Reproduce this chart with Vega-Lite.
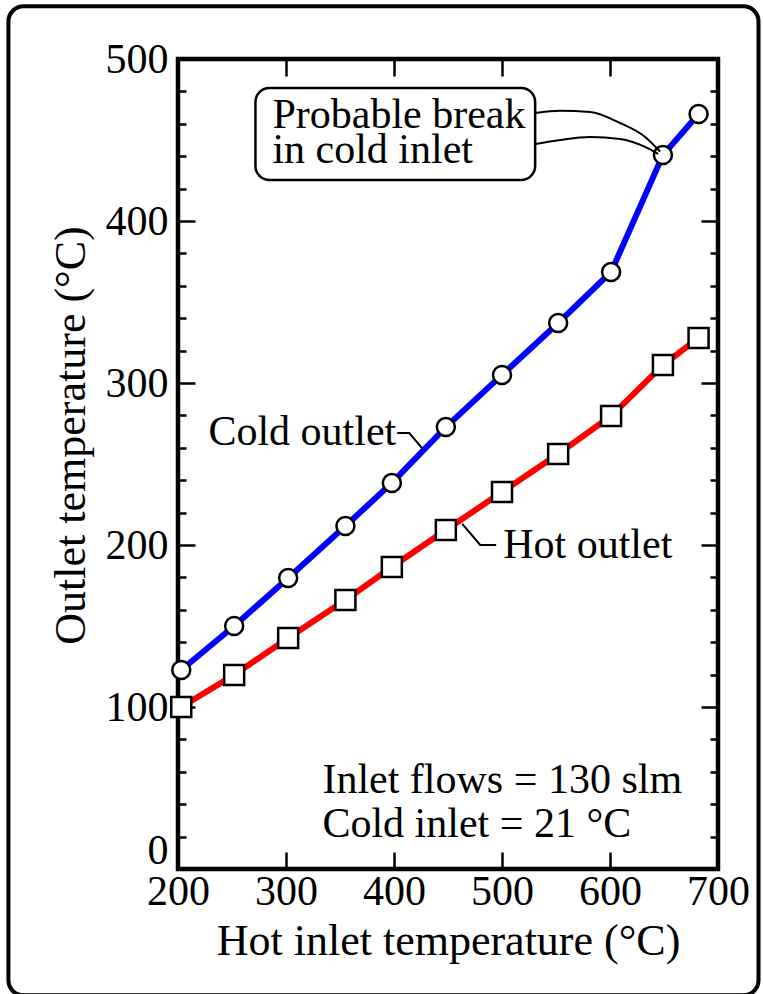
{
  "$schema": "https://vega.github.io/schema/vega-lite/v6.json",
  "width": 540,
  "height": 810,
  "autosize": "none",
  "padding": {"left": 178, "top": 59, "right": 45, "bottom": 125},
  "background": "white",
  "config": {
    "font": "Liberation Serif",
    "view": {"stroke": "black", "strokeWidth": 4.5},
    "axis": {
      "domain": false,
      "grid": false,
      "tickColor": "black",
      "tickWidth": 2.5,
      "labelColor": "black",
      "labelFontSize": 42,
      "titleColor": "black",
      "titleFontSize": 44,
      "titleFontWeight": "normal"
    }
  },
  "datasets": {
    "series": [
      {"series": "Cold outlet", "hot_inlet": 203, "outlet": 122.8},
      {"series": "Cold outlet", "hot_inlet": 252, "outlet": 150},
      {"series": "Cold outlet", "hot_inlet": 302, "outlet": 179.6},
      {"series": "Cold outlet", "hot_inlet": 355, "outlet": 211.7},
      {"series": "Cold outlet", "hot_inlet": 398, "outlet": 238.3},
      {"series": "Cold outlet", "hot_inlet": 448, "outlet": 272.8},
      {"series": "Cold outlet", "hot_inlet": 500, "outlet": 305},
      {"series": "Cold outlet", "hot_inlet": 552, "outlet": 337},
      {"series": "Cold outlet", "hot_inlet": 601, "outlet": 368.5},
      {"series": "Cold outlet", "hot_inlet": 649, "outlet": 440.7},
      {"series": "Cold outlet", "hot_inlet": 682, "outlet": 466},
      {"series": "Hot outlet", "hot_inlet": 203, "outlet": 100},
      {"series": "Hot outlet", "hot_inlet": 252, "outlet": 119.8},
      {"series": "Hot outlet", "hot_inlet": 302, "outlet": 142.6},
      {"series": "Hot outlet", "hot_inlet": 355, "outlet": 166},
      {"series": "Hot outlet", "hot_inlet": 398, "outlet": 186.4},
      {"series": "Hot outlet", "hot_inlet": 448, "outlet": 209.3},
      {"series": "Hot outlet", "hot_inlet": 500, "outlet": 232.7},
      {"series": "Hot outlet", "hot_inlet": 552, "outlet": 256.2},
      {"series": "Hot outlet", "hot_inlet": 601, "outlet": 279.6},
      {"series": "Hot outlet", "hot_inlet": 649, "outlet": 311.1},
      {"series": "Hot outlet", "hot_inlet": 682, "outlet": 327.8}
    ],
    "curves": [
      {"leader": "upper", "x": 530.7, "y": 466.7},
      {"leader": "upper", "x": 553.8, "y": 468},
      {"leader": "upper", "x": 581.5, "y": 467.3},
      {"leader": "upper", "x": 609.3, "y": 460.5},
      {"leader": "upper", "x": 632.5, "y": 451.9},
      {"leader": "upper", "x": 646.4, "y": 442.9},
      {"leader": "lower", "x": 530.7, "y": 447.5},
      {"leader": "lower", "x": 553.8, "y": 450},
      {"leader": "lower", "x": 581.5, "y": 451.9},
      {"leader": "lower", "x": 609.3, "y": 450.6},
      {"leader": "lower", "x": 632.5, "y": 445.7},
      {"leader": "lower", "x": 644.6, "y": 441.4}
    ],
    "leaders": [
      {"leader": "cold", "x": 403, "y": 269.1},
      {"leader": "cold", "x": 414.1, "y": 269.1},
      {"leader": "cold", "x": 427, "y": 259},
      {"leader": "hot", "x": 463.2, "y": 213},
      {"leader": "hot", "x": 479.8, "y": 200},
      {"leader": "hot", "x": 494.6, "y": 200}
    ],
    "labelsLeft": [
      {"label": "Probable break", "x": 287.4, "y": 457.2},
      {"label": "in cold inlet", "x": 287.4, "y": 435.6},
      {"label": "Hot outlet", "x": 501.1, "y": 192},
      {"label": "Inlet flows = 130 slm", "x": 333.7, "y": 46.9},
      {"label": "Cold inlet = 21 °C", "x": 333.7, "y": 19.8}
    ],
    "labelsRight": [
      {"label": "Cold outlet", "x": 402.1, "y": 261.7}
    ]
  },
  "layer": [
    {
      "data": {"values": [{}]},
      "mark": {"type": "rect", "fill": "white", "fillOpacity": 0, "stroke": "black", "strokeWidth": 4, "cornerRadius": 15, "clip": false},
      "encoding": {
        "x": {"datum": 43, "type": "quantitative", "scale": {"domain": [200, 700], "nice": false, "zero": false}, "axis": null},
        "x2": {"datum": 737.5},
        "y": {"datum": 532.5, "type": "quantitative", "scale": {"domain": [0, 500], "nice": false, "zero": false}, "axis": null},
        "y2": {"datum": -78}
      }
    },
    {
      "data": {"name": "series"},
      "mark": {"type": "line", "strokeWidth": 6},
      "encoding": {
        "x": {
          "field": "hot_inlet", "type": "quantitative",
          "scale": {"domain": [200, 700], "nice": false, "zero": false},
          "axis": {
            "orient": "bottom",
            "values": [200, 300, 400, 500, 600, 700],
            "tickSize": -17,
            "labelPadding": 19,
            "labelFlush": false,
            "title": "Hot inlet temperature (°C)",
            "titlePadding": 7
          }
        },
        "y": {
          "field": "outlet", "type": "quantitative",
          "scale": {"domain": [0, 500], "nice": false, "zero": false},
          "axis": {
            "orient": "left",
            "values": [0, 20, 40, 60, 80, 100, 120, 140, 160, 180, 200, 220, 240, 260, 280, 300, 320, 340, 360, 380, 400, 420, 440, 460, 480, 500],
            "tickSize": {"condition": {"test": "datum.value % 100 === 0", "value": -17}, "value": -8},
            "labelExpr": "datum.value % 100 === 0 ? datum.label : ''",
            "labelOffset": {"condition": {"test": "datum.value === 0", "value": -19}, "value": 0},
            "labelPadding": 27,
            "title": "Outlet temperature (°C)",
            "titlePadding": 12,
            "titleY": 376
          }
        },
        "color": {
          "field": "series", "type": "nominal",
          "scale": {"domain": ["Cold outlet", "Hot outlet"], "range": ["#0000ff", "#ff0000"]},
          "legend": null
        }
      }
    },
    {
      "data": {"name": "series"},
      "mark": {"type": "point", "filled": true, "fill": "white", "stroke": "black", "strokeWidth": 2.5, "opacity": 1},
      "encoding": {
        "x": {
          "field": "hot_inlet", "type": "quantitative",
          "axis": {"orient": "top", "values": [300, 400, 500, 600], "tickSize": -17, "labels": false, "title": null}
        },
        "y": {
          "field": "outlet", "type": "quantitative",
          "axis": {
            "orient": "right",
            "values": [0, 20, 40, 60, 80, 100, 120, 140, 160, 180, 200, 220, 240, 260, 280, 300, 320, 340, 360, 380, 400, 420, 440, 460, 480, 500],
            "tickSize": {"condition": {"test": "datum.value % 100 === 0", "value": -17}, "value": -8},
            "labels": false,
            "title": null
          }
        },
        "shape": {"field": "series", "type": "nominal", "scale": {"domain": ["Cold outlet", "Hot outlet"], "range": ["circle", "square"]}, "legend": null},
        "size": {"field": "series", "type": "nominal", "scale": {"domain": ["Cold outlet", "Hot outlet"], "range": [324, 400]}, "legend": null}
      }
    },
    {
      "data": {"name": "curves"},
      "mark": {"type": "line", "color": "black", "strokeWidth": 2, "interpolate": "monotone"},
      "encoding": {
        "x": {"field": "x", "type": "quantitative", "axis": null},
        "y": {"field": "y", "type": "quantitative", "axis": null},
        "detail": {"field": "leader"}
      }
    },
    {
      "data": {"name": "leaders"},
      "mark": {"type": "line", "color": "black", "strokeWidth": 2},
      "encoding": {
        "x": {"field": "x", "type": "quantitative", "axis": null},
        "y": {"field": "y", "type": "quantitative", "axis": null},
        "detail": {"field": "leader"}
      }
    },
    {
      "data": {"values": [{}]},
      "mark": {"type": "rect", "fill": "white", "stroke": "black", "strokeWidth": 2.5, "cornerRadius": 14},
      "encoding": {
        "x": {"datum": 271.7, "type": "quantitative", "axis": null},
        "x2": {"datum": 530.7},
        "y": {"datum": 482.1, "type": "quantitative", "axis": null},
        "y2": {"datum": 425.3}
      }
    },
    {
      "data": {"name": "labelsLeft"},
      "mark": {"type": "text", "align": "left", "baseline": "alphabetic", "fontSize": 42, "color": "black"},
      "encoding": {
        "x": {"field": "x", "type": "quantitative", "axis": null},
        "y": {"field": "y", "type": "quantitative", "axis": null},
        "text": {"field": "label"}
      }
    },
    {
      "data": {"name": "labelsRight"},
      "mark": {"type": "text", "align": "right", "baseline": "alphabetic", "fontSize": 42, "color": "black"},
      "encoding": {
        "x": {"field": "x", "type": "quantitative", "axis": null},
        "y": {"field": "y", "type": "quantitative", "axis": null},
        "text": {"field": "label"}
      }
    }
  ],
  "resolve": {"axis": {"x": "independent", "y": "independent"}}
}
